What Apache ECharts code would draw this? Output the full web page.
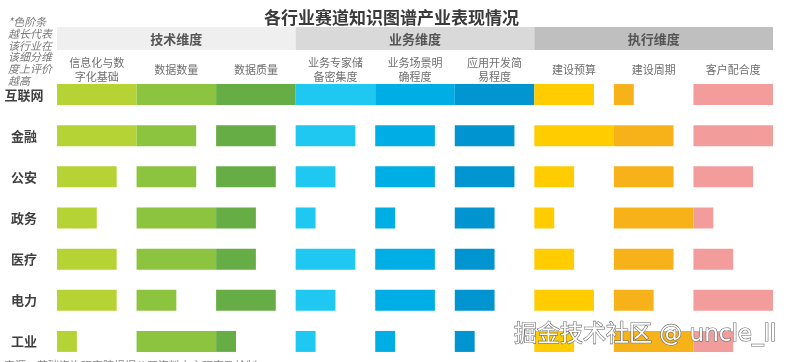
<!DOCTYPE html>
<html><head><meta charset="utf-8">
<script src="https://cdn.jsdelivr.net/npm/echarts@6/dist/echarts.min.js"></script>
<style>html,body{margin:0;padding:0;background:#fff}#c{width:807px;height:362px}</style>
</head><body><div id="c"></div>
<script>
const industries = ['互联网','金融','公安','政务','医疗','电力','工业'];
const dimensions = ['信息化与数\n字化基础','数据数量','数据质量','业务专家储\n备密集度','业务场景明\n确程度','应用开发简\n易程度','建设预算','建设周期','客户配合度'];
const groups = ['技术维度','业务维度','执行维度'];
const infoBase      = [4,4,3,2,3,3,1];
const dataVolume    = [4,3,3,4,4,2,4];
const dataQuality   = [4,3,3,2,2,3,1];
const expertDensity = [4,3,2,1,3,2,1];
const sceneClarity  = [4,3,3,1,3,3,1];
const devEase       = [4,3,3,2,2,2,1];
const budget        = [3,4,2,1,2,3,2];
const cycle         = [1,3,3,4,3,2,4];
const cooperation   = [4,4,3,1,2,4,2];
const maxScore = 4;

const seriesData = [infoBase,dataVolume,dataQuality,expertDensity,sceneClarity,devEase,budget,cycle,cooperation];
const colors = ['#b5d334','#8dc43f','#66ad45','#1fc8f0','#00aee6','#0095d0','#ffcc00','#f8b219','#f29c9c'];
const groupColors = ['#efefef','#d9d9d9','#bfbfbf'];

const L = 57, R = 773, colW = (R - L) / 9;
const grids = [], xAxes = [], yAxes = [], series = [], graphics = [];
for (let i = 0; i < 9; i++) {
  grids.push({left: L + i*colW, width: colW, top: 74, height: 288});
  xAxes.push({gridIndex: i, type: 'value', min: 0, max: maxScore, show: false});
  yAxes.push({gridIndex: i, type: 'category', data: industries, inverse: true,
    show: i === 0, axisLine: {show: false}, axisTick: {show: false}, splitLine: {show: false},
    axisLabel: {show: i === 0, align: 'center', margin: 33, fontSize: 13, fontWeight: 'bold',
      color: '#404040', fontFamily: 'Noto Sans CJK SC'}});
  series.push({type: 'bar', xAxisIndex: i, yAxisIndex: i, data: seriesData[i], barWidth: 21,
    itemStyle: {color: colors[i]}, silent: true, animation: false});
  graphics.push({type: 'text',
    style: {text: dimensions[i], x: L + (i+0.5)*colW, y: 70, align: 'center', verticalAlign: 'middle',
      fontSize: 11, lineHeight: 14, fill: '#6f6f6f', fontFamily: 'Noto Sans CJK SC'}});
}
for (let g = 0; g < 3; g++) {
  const x0 = L + g*3*colW;
  graphics.push({type: 'rect', shape: {x: x0, y: 27, width: 3*colW, height: 23}, style: {fill: groupColors[g]}, z: 0});
  graphics.push({type: 'text', style: {text: groups[g], x: x0 + 1.5*colW, y: 39, align: 'center', verticalAlign: 'middle',
    fontSize: 13, fontWeight: 'bold', fill: '#555', fontFamily: 'Noto Sans CJK SC'}, z: 1});
}
graphics.push({type: 'text', style: {text: '*色阶条\n越长代表\n该行业在\n该细分维\n度上评价\n越高', x: 8, y: 16,
  fontSize: 11, lineHeight: 11.8, fontStyle: 'italic', fill: '#7a7a7a', fontFamily: 'Noto Sans CJK SC'}});
graphics.push({type: 'text', style: {text: '来源：艾瑞咨询研究院根据公开资料自主研究及绘制。', x: 4, y: 360,
  fontSize: 11, fill: '#888', fontFamily: 'Noto Sans CJK SC'}});
graphics.push({type: 'text', z: 100, style: {text: '掘金技术社区 @ uncle_ll', x: 514, y: 335, verticalAlign: 'middle',
  fontSize: 23, fill: '#ffffff', stroke: '#6a6a6a', lineWidth: 1.2,
  shadowColor: 'rgba(0,0,0,0.5)', shadowBlur: 2, shadowOffsetX: 1, shadowOffsetY: 1,
  fontFamily: '"DejaVu Sans", "Noto Sans CJK SC"'}});

const chart = echarts.init(document.getElementById('c'), null, {renderer: 'canvas'});
chart.setOption({
  animation: false,
  backgroundColor: '#fff',
  title: {text: '各行业赛道知识图谱产业表现情况', left: 259, top: 4,
    textStyle: {fontSize: 17, fontWeight: 'bold', color: '#3a3a3a', fontFamily: 'Noto Sans CJK SC'}},
  grid: grids, xAxis: xAxes, yAxis: yAxes, series: series, graphic: graphics
});
</script></body></html>
